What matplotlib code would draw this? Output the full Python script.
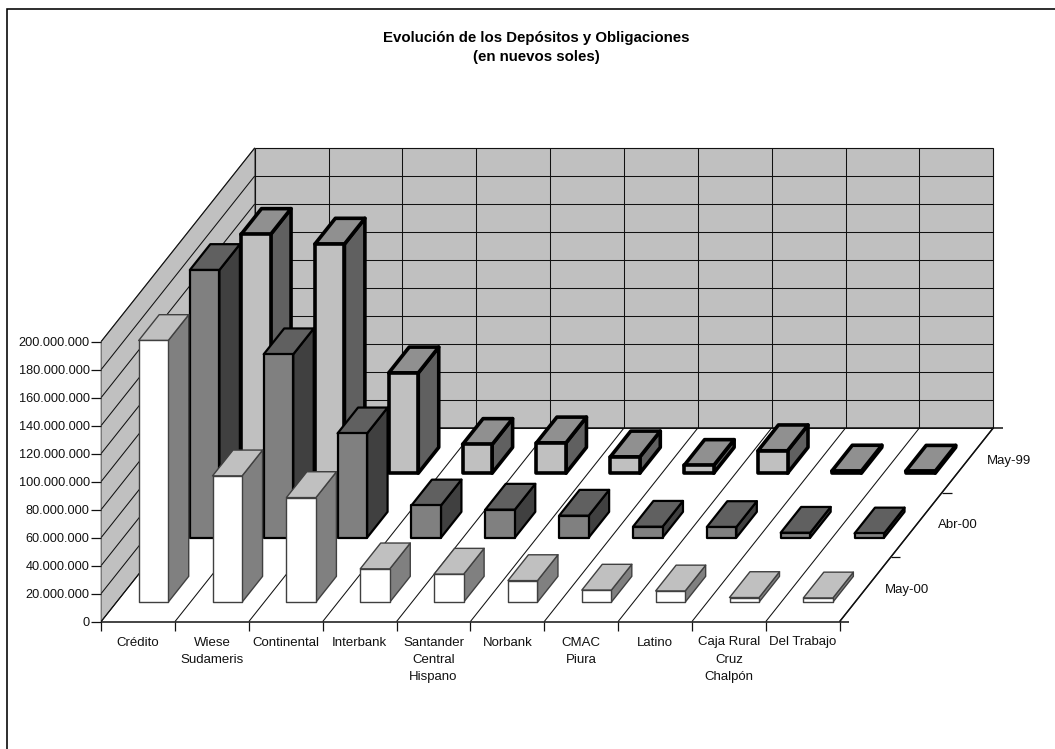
import matplotlib
matplotlib.use("Agg")
import matplotlib.pyplot as plt
from matplotlib.patches import Polygon

plt.rcParams['font.family'] = ['Liberation Sans', 'DejaVu Sans']

# ---- data (millions of nuevos soles) ----
categories = ["Crédito", "Wiese\nSudameris", "Continental", "Interbank",
              "Santander\nCentral\nHispano", "Norbank", "CMAC\nPiura", "Latino",
              "Caja Rural\nCruz\nChalpón", "Del Trabajo"]
series_names = ["May-00", "Abr-00", "May-99"]
may_00 = [186.9, 90.2, 74.7, 23.8, 20.0, 15.4, 8.6, 8.0, 3.3, 3.0]
abr_00 = [191.2, 131.0, 74.5, 23.0, 20.0, 15.7, 7.8, 7.6, 3.5, 3.0]
may_99 = [170.5, 163.6, 71.6, 20.5, 21.6, 11.6, 5.5, 16.0, 1.5, 1.4]
y_ticks = [0, 20, 40, 60, 80, 100, 120, 140, 160, 180, 200]

# ---- styling ----
series_values = [may_00, abr_00, may_99]
face_front = ["#FFFFFF", "#808080", "#C0C0C0"]
face_top = ["#C0C0C0", "#606060", "#909090"]
face_side = ["#808080", "#404040", "#606060"]
edge_w = [1.0, 1.6, 2.6]
edge_c = ["#404040", "#000000", "#000000"]
WALL = "#C0C0C0"

# ---- oblique chart projection ----
X0, Y0 = 101.2, 621.5      # front-left floor corner in pixels
CAT_W = 73.85              # px per category
DX, DY = 153.5, -193.5     # full-depth offset
PX_PER_UNIT = 1.4          # px per million
N, S = len(categories), len(series_names)


def proj(c, d, v):
    """category position, depth position (in series units), value -> figure px"""
    return (X0 + c * CAT_W + d / S * DX, Y0 + d / S * DY - v * PX_PER_UNIT)


fig = plt.figure(figsize=(10.55, 7.49), dpi=100, facecolor="white")
ax = fig.add_axes([0, 0, 1, 1])
ax.set_xlim(0, 1055)
ax.set_ylim(749, 0)
ax.axis("off")

GL = dict(color="#111111", lw=0.75, solid_capstyle="butt")


def poly(pts, fc, ec="none", lw=0.0, z=1):
    ax.add_patch(Polygon(pts, closed=True, facecolor=fc, edgecolor=ec, linewidth=lw,
                         joinstyle="round", zorder=z))


def seg(a, b, z=2, **kw):
    st = dict(GL)
    st.update(kw)
    ax.plot([a[0], b[0]], [a[1], b[1]], zorder=z, **st)


vmax = y_ticks[-1]
# outer frame (open at right and bottom)
ax.plot([6.5, 6.5, 1055], [749, 8.5, 8.5], color="#000000", lw=1.15, zorder=1,
        solid_joinstyle="miter")

# walls and floor
poly([proj(0, S, 0), proj(N, S, 0), proj(N, S, vmax), proj(0, S, vmax)], WALL, "#606060", 0.8)
poly([proj(0, 0, 0), proj(0, S, 0), proj(0, S, vmax), proj(0, 0, vmax)], WALL, "#606060", 0.8)
poly([proj(0, 0, 0), proj(N, 0, 0), proj(N, S, 0), proj(0, S, 0)], "#FFFFFF")

for t in y_ticks:
    seg(proj(0, S, t), proj(N, S, t))
    seg(proj(0, 0, t), proj(0, S, t))
    x, y = proj(0, 0, t)
    seg((x - 10, y), (x, y), lw=0.9)
    ax.text(x - 11.5, y, f"{t * 1000000:,}".replace(",", "."), ha="right", va="center_baseline",
            fontsize=9.2, color="#111111")

for i in range(N + 1):
    seg(proj(i, S, 0), proj(i, S, vmax))
    seg(proj(i, 0, 0), proj(i, S, 0))
    x, y = proj(i, 0, 0)
    seg((x, y), (x, y + 9), lw=0.9)

seg(proj(0, 0, 0), (proj(N, 0, 0)[0] + 9, Y0), lw=1.1)
seg(proj(0, S, 0), (proj(N, S, 0)[0] + 10, proj(N, S, 0)[1]), lw=1.1)
seg(proj(N, 0, 0), proj(N, S, 0), lw=1.1)

for j in range(1, S):
    x, y = proj(N, j, 0)
    seg((x, y), (x + 9.5, y), lw=0.9)

# bars, back series first
GAP = 0.3
for s in range(S - 1, -1, -1):
    for c in range(N):
        v = series_values[s][c]
        c0, c1 = c + GAP, c + 1 - GAP
        d0, d1 = s + GAP, s + 1 - GAP
        st = dict(ec=edge_c[s], lw=edge_w[s], z=5 + (S - s))
        poly([proj(c1, d0, 0), proj(c1, d1, 0), proj(c1, d1, v), proj(c1, d0, v)], face_side[s], **st)
        poly([proj(c0, d0, v), proj(c1, d0, v), proj(c1, d1, v), proj(c0, d1, v)], face_top[s], **st)
        poly([proj(c0, d0, 0), proj(c1, d0, 0), proj(c1, d0, v), proj(c0, d0, v)], face_front[s], **st)

# category labels
for i, name in enumerate(categories):
    x, _ = proj(i + 0.5, 0, 0)
    ax.text(x, 636.5, name, ha="center", va="top", fontsize=9.5, color="#111111",
            linespacing=1.58, zorder=20)

# series labels
for j, name in enumerate(series_names):
    x, y = proj(N, j + 0.5, 0)
    ax.text(x + 41.5, y + 0.5, name, ha="center", va="center", fontsize=9.5,
            color="#111111", zorder=20)

# title
ax.text(536, 38, "Evolución de los Depósitos y Obligaciones", ha="center", va="center",
        fontsize=10.8, fontweight="bold", color="black")
ax.text(536, 57.5, "(en nuevos soles)", ha="center", va="center",
        fontsize=10.8, fontweight="bold", color="black")

fig.savefig("out.png", dpi=100)
